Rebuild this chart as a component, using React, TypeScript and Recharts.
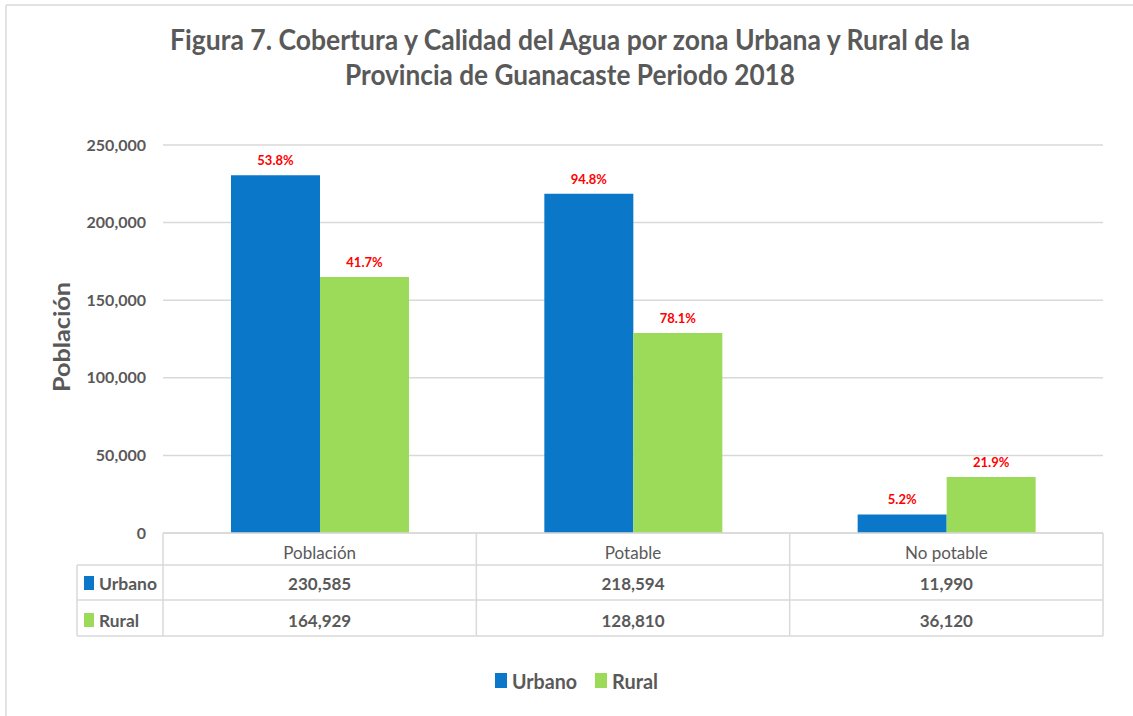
import React from 'react';
import { BarChart, Bar, XAxis, YAxis, CartesianGrid, LabelList, Customized } from 'recharts';

const categories = ['Población', 'Potable', 'No potable'];
const urbano = [230585, 218594, 11990];
const rural = [164929, 128810, 36120];
const urbanoPct = ['53.8%', '94.8%', '5.2%'];
const ruralPct = ['41.7%', '78.1%', '21.9%'];
const yTicks = [0, 50000, 100000, 150000, 200000, 250000];
const seriesNames = ['Urbano', 'Rural'];
const seriesColors = ['#0B77C8', '#9CDB5A'];
const titleLines = [
  'Figura 7. Cobertura y Calidad del Agua por zona Urbana y Rural de la',
  'Provincia de Guanacaste Periodo 2018',
];
const yLabel = 'Población';

const data = categories.map((c, i) => ({ name: c, urbano: urbano[i], rural: rural[i] }));
const seriesValues = [urbano, rural];

const W = 1133;
const H = 716;
const PLOT_L = 163;
const PLOT_R = 1103;
const BAND = (PLOT_R - PLOT_L) / categories.length;
const FONT = 'Lato, "Noto Sans", sans-serif';
const TEXT = '#595959';
const LINE = '#d9d9d9';

const fmt = (v: number) => v.toLocaleString('en-US');

const TableTick = (props: any) => {
  const { x, y, payload } = props;
  const i = categories.indexOf(payload.value);
  const half = BAND / 2;
  const T = y;
  const l = x - half;
  const r = x + half;
  const legL = l - 86;
  const rows = [T + 32, T + 67, T + 103];
  const legW = [58, 40];
  return (
    <g>
      {i === 0 && <line x1={l} y1={T} x2={l} y2={T + 103} stroke={LINE} strokeWidth={1.5} />}
      <line x1={r} y1={T} x2={r} y2={T + 103} stroke={LINE} strokeWidth={1.5} />
      {rows.map((ry, k) => (
        <line key={k} x1={i === 0 ? legL : l} y1={ry} x2={r} y2={ry} stroke={LINE} strokeWidth={1.5} />
      ))}
      {i === 0 && (
        <g>
          <line x1={legL} y1={T + 32} x2={legL} y2={T + 103} stroke={LINE} strokeWidth={1.5} />
          {seriesNames.map((n, k) => (
            <g key={n}>
              <rect x={legL + 7} y={(k === 0 ? T + 50 : T + 87) - 7} width={10} height={14} fill={seriesColors[k]} />
              <text x={legL + 22} y={k === 0 ? T + 50 : T + 87} dominantBaseline="central" fill={TEXT}
                fontSize={17} fontWeight={700} fontFamily={FONT} textLength={legW[k]}
                lengthAdjust="spacingAndGlyphs">{n}</text>
            </g>
          ))}
        </g>
      )}
      <text x={x} y={T + 19} textAnchor="middle" dominantBaseline="central" fill={TEXT} fontSize={17}
        fontFamily={FONT}>{payload.value}</text>
      <text x={x} y={T + 50} textAnchor="middle" dominantBaseline="central" fill={TEXT} fontSize={17}
        fontWeight={700} fontFamily={FONT}>{fmt(seriesValues[0][i])}</text>
      <text x={x} y={T + 87} textAnchor="middle" dominantBaseline="central" fill={TEXT} fontSize={17}
        fontWeight={700} fontFamily={FONT}>{fmt(seriesValues[1][i])}</text>
    </g>
  );
};

const makeLabel = (pcts: string[]) => (props: any) => {
  const { x, y, width, index } = props;
  return (
    <text x={x + width / 2} y={y - 15} textAnchor="middle" dominantBaseline="central" fill="#FF0000"
      fontSize={13} fontWeight={700} fontFamily={FONT}>{pcts[index]}</text>
  );
};

const Decorations = () => (
  <g>
    <line x1={6} y1={5} x2={W} y2={5} stroke="#e2e2e2" strokeWidth={2} />
    <line x1={6} y1={5} x2={6} y2={H} stroke="#e2e2e2" strokeWidth={2} />
    <text x={570} y={38} textAnchor="middle" dominantBaseline="central" fill={TEXT} fontSize={29}
      fontWeight={700} fontFamily={FONT} textLength={800} lengthAdjust="spacingAndGlyphs">{titleLines[0]}</text>
    <text x={570} y={73} textAnchor="middle" dominantBaseline="central" fill={TEXT} fontSize={29}
      fontWeight={700} fontFamily={FONT} textLength={450} lengthAdjust="spacingAndGlyphs">{titleLines[1]}</text>
    <text x={61} y={337} transform="rotate(-90 61 337)" textAnchor="middle" dominantBaseline="central"
      fill={TEXT} fontSize={22} fontWeight={700} fontFamily={FONT} textLength={110}
      lengthAdjust="spacingAndGlyphs">{yLabel}</text>
    <rect x={495} y={673} width={12} height={15} fill={seriesColors[0]} />
    <text x={512} y={680} dominantBaseline="central" fill={TEXT} fontSize={21} fontWeight={700}
      fontFamily={FONT} textLength={65} lengthAdjust="spacingAndGlyphs">{seriesNames[0]}</text>
    <rect x={595} y={673} width={12} height={15} fill={seriesColors[1]} />
    <text x={612} y={680} dominantBaseline="central" fill={TEXT} fontSize={21} fontWeight={700}
      fontFamily={FONT} textLength={46} lengthAdjust="spacingAndGlyphs">{seriesNames[1]}</text>
  </g>
);

export default function App() {
  return (
    <div style={{ position: 'absolute', left: 0, top: 0, width: W, height: H, background: '#fff' }}>
      <BarChart width={W} height={H} data={data} margin={{ top: 145, right: W - PLOT_R, bottom: 73, left: 0 }}
        barGap={0}>
        <CartesianGrid vertical={false} stroke={LINE} strokeWidth={1.5} />
        <XAxis dataKey="name" height={110} interval={0} tickLine={false} tickSize={0} tickMargin={0}
          axisLine={{ stroke: LINE, strokeWidth: 1.5 }} tick={<TableTick />} />
        <YAxis width={PLOT_L} domain={[0, 250000]} ticks={yTicks} axisLine={false} tickLine={false}
          tickMargin={11} tickFormatter={fmt}
          tick={{ fill: TEXT, fontSize: 16, fontWeight: 700, fontFamily: FONT }} />
        <Bar dataKey="urbano" name={seriesNames[0]} fill={seriesColors[0]} barSize={89} isAnimationActive={false}>
          <LabelList dataKey="urbano" content={makeLabel(urbanoPct)} />
        </Bar>
        <Bar dataKey="rural" name={seriesNames[1]} fill={seriesColors[1]} barSize={89} isAnimationActive={false}>
          <LabelList dataKey="rural" content={makeLabel(ruralPct)} />
        </Bar>
        <Customized component={<Decorations />} />
      </BarChart>
    </div>
  );
}
